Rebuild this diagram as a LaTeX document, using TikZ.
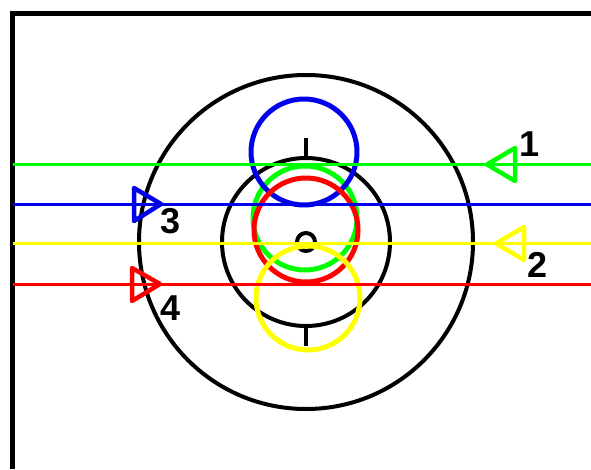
\documentclass[tikz,border=0pt]{standalone}
\usepackage{fontspec}
\setmainfont{Liberation Sans}
\definecolor{cgreen}{RGB}{0,255,0}
\definecolor{cblue}{RGB}{0,0,235}
\definecolor{cred}{RGB}{255,0,0}
\definecolor{cyellow}{RGB}{255,255,0}
\begin{document}
\begin{tikzpicture}[x=1pt,y=-1pt,
  ring/.style={line width=4pt},
  colring/.style={line width=5pt},
  ray/.style={line width=3pt},
  tri/.style={line width=4.5pt,line join=round},
  lab/.style={font=\fontsize{36}{36}\selectfont\bfseries,inner sep=0pt}]
\useasboundingbox (0,0) rectangle (591,469);
% frame
\draw[line width=5pt] (12.5,469) -- (12.5,13.5) -- (591,13.5);
% black rings
\draw[ring] (306,242) circle (167);
\draw[ring] (306,242) circle (84);
\draw[ring] (306,242) circle (9);
\draw[ring] (306,138) -- (306,158);
\draw[ring] (306,327) -- (306,346);
% coloured circles
\draw[colring,cgreen] (305,218) circle (52);
\draw[colring,cblue] (304,152) circle (53);
\draw[colring,cred] (306,230) circle (52);
\draw[colring,cyellow] (308,298) circle (52);
% rays
\draw[ray,cgreen] (12.5,164.5) -- (591,164.5);
\draw[ray,cblue] (12.5,204) -- (591,204);
\draw[ray,cyellow] (12.5,243.5) -- (591,243.5);
\draw[ray,cred] (12.5,284) -- (591,284);
% triangles
\draw[tri,cgreen] (487,164.5) -- (515,148) -- (515,181) -- cycle;
\draw[tri,cyellow] (496,243.5) -- (524,227) -- (524,260) -- cycle;
\draw[tri,cblue] (161,204) -- (134,188) -- (134,221) -- cycle;
\draw[tri,cred] (160,284) -- (132,268) -- (132,301) -- cycle;
% labels
\node[lab] (l1) at (530,144) {1};
\node[lab] (l2) at (538,265) {2};
\node[lab] (l3) at (171,221) {3};
\node[lab] (l4) at (171,308) {4};
\end{tikzpicture}
\end{document}
